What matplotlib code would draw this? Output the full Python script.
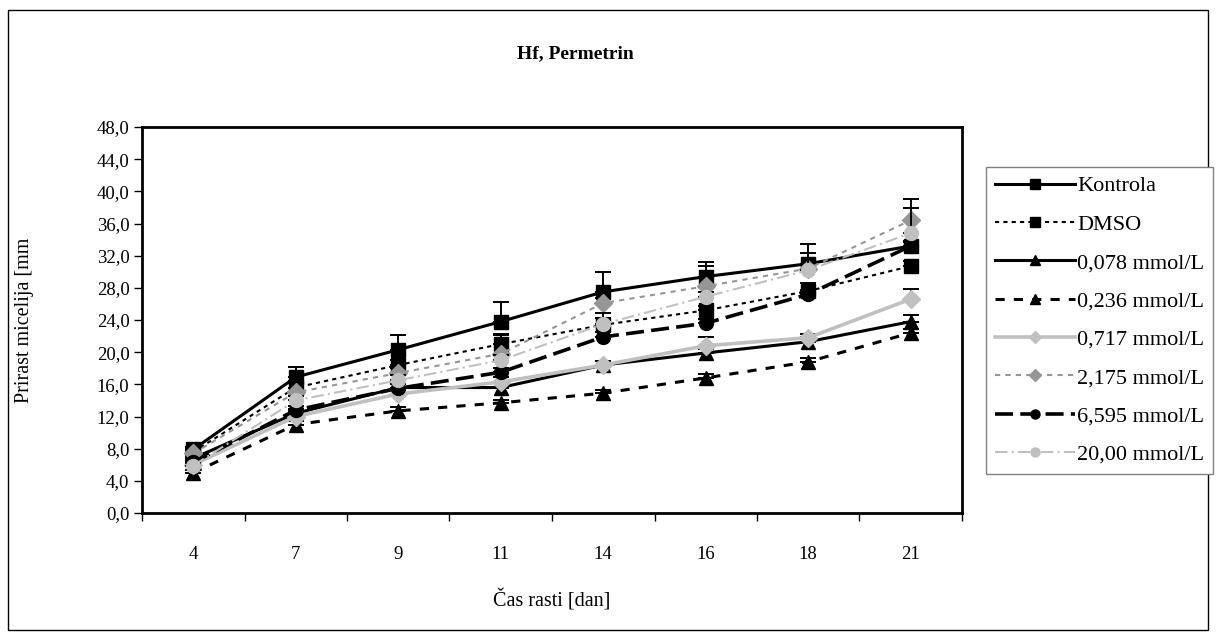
import matplotlib
matplotlib.use("Agg")
import matplotlib.pyplot as plt
from matplotlib.patches import Rectangle
import numpy as np

plt.rcParams["font.family"] = ["Liberation Serif", "DejaVu Serif"]

days = ["4", "7", "9", "11", "14", "16", "18", "21"]

kontrola = [7.9, 16.9, 20.3, 23.8, 27.5, 29.4, 31.0, 33.2]
dmso = [7.6, 15.6, 18.4, 21.0, 23.4, 25.2, 27.6, 30.7]
c0078 = [6.8, 12.4, 15.6, 15.6, 18.4, 19.9, 21.3, 23.8]
c0236 = [5.0, 11.0, 12.7, 13.7, 14.9, 16.8, 18.8, 22.4]
c0717 = [6.0, 12.0, 14.8, 16.3, 18.4, 20.8, 21.8, 26.6]
c2175 = [7.4, 15.0, 17.4, 19.8, 26.1, 28.2, 30.4, 36.4]
c6595 = [6.3, 12.8, 15.5, 17.5, 21.9, 23.6, 27.2, 33.2]
c2000 = [5.9, 14.0, 16.5, 19.0, 23.5, 26.9, 30.2, 34.8]

# upper error bars (Excel "plus" only)
kontrola_err = [0.3, 1.3, 1.8, 2.5, 2.5, 1.8, 2.4, 0.5]
dmso_err = [0.3, 0.8, 0.6, 1.3, 0.8, 0.5, 1.0, 0.6]
c0078_err = [0.3, 0.5, 0.5, 0.6, 0.5, 0.5, 0.6, 0.8]
c0236_err = [0.3, 0.5, 0.5, 0.4, 0.4, 0.5, 0.5, 0.5]
c0717_err = [0.3, 0.5, 0.5, 0.6, 0.5, 1.1, 0.5, 1.3]
c2175_err = [0.3, 0.6, 0.6, 2.3, 0.6, 2.5, 0.6, 2.6]
c6595_err = [0.3, 0.5, 0.5, 0.5, 0.6, 0.5, 0.5, 0.6]
c2000_err = [0.3, 0.6, 0.6, 0.6, 1.4, 0.6, 2.1, 3.1]

labels = ["Kontrola", "DMSO", "0,078 mmol/L", "0,236 mmol/L", "0,717 mmol/L",
          "2,175 mmol/L", "6,595 mmol/L", "20,00 mmol/L"]

LIGHT = "#C0C0C0"
DARK = "#969696"
series = [
    (kontrola, kontrola_err, dict(color="black", ls="-", lw=2.2, marker="s")),
    (dmso, dmso_err, dict(color="black", ls=(0, (2, 2)), lw=1.5, marker="s")),
    (c0078, c0078_err, dict(color="black", ls="-", lw=2.2, marker="^")),
    (c0236, c0236_err, dict(color="black", ls=(0, (3, 3)), lw=2.2, marker="^")),
    (c0717, c0717_err, dict(color=LIGHT, ls="-", lw=2.6, marker="D")),
    (c2175, c2175_err, dict(color=DARK, ls=(0, (2.5, 2.5)), lw=1.5, marker="D")),
    (c6595, c6595_err, dict(color="black", ls=(0, (5, 2)), lw=2.6, marker="o")),
    (c2000, c2000_err, dict(color=LIGHT, ls=(0, (6, 2, 1, 2)), lw=1.5, marker="o")),
]

W, H = 1216, 637
fig = plt.figure(figsize=(W / 100, H / 100), dpi=100)
ax = fig.add_axes([142 / W, 1 - 513 / H, (962 - 142) / W, (513 - 127) / H])

x = np.arange(len(days))
handles = []
for (vals, err, st), lab in zip(series, labels):
    ms = 9 if st["marker"] == "D" else 10
    ax.errorbar(x, vals, yerr=[np.zeros(len(err)), err], fmt="none",
                ecolor="black", elinewidth=1.4, capsize=5.5, capthick=1.4)
    (ln,) = ax.plot(x, vals, color=st["color"], ls=st["ls"], lw=st["lw"],
                    marker=st["marker"], ms=ms, mfc=st["color"], mec=st["color"],
                    label=lab)
    handles.append(ln)

ax.set_xlim(-0.5, len(days) - 0.5)
ax.set_ylim(0, 48)
ax.set_yticks(np.arange(0, 49, 4))
ax.set_yticklabels([f"{v:.1f}".replace(".", ",") for v in np.arange(0, 49, 4)])
ax.set_xticks(x)
ax.set_xticklabels(days)
ax.set_xticks(np.arange(-0.5, len(days), 1), minor=True)
ax.tick_params(axis="x", which="major", length=0, pad=24, labelsize=13.5)
ax.tick_params(axis="x", which="minor", length=6, width=1, direction="out")
ax.tick_params(axis="y", length=6, width=1, direction="out", labelsize=13.5, pad=3)
for sp in ax.spines.values():
    sp.set_linewidth(2)
    sp.set_color("black")

fig.text(552 / W, 1 - 600 / H, "Čas rasti [dan]", ha="center", va="center", fontsize=14.5)
fig.text(25 / W, 1 - 320 / H, "Prirast micelija [mm", ha="center", va="center",
         rotation=90, fontsize=14.5)
fig.text(575 / W, 1 - 54 / H, "Hf, Permetrin", ha="center", va="center",
         fontsize=14, fontweight="bold")

leg = fig.legend(handles=handles, loc="upper left",
                 bbox_to_anchor=(986 / W, 1 - 167 / H), fontsize=16,
                 handlelength=3.6, handletextpad=0.1, labelspacing=0.8,
                 borderpad=0.4, borderaxespad=0, markerscale=0.65,
                 fancybox=False, framealpha=1, edgecolor="#808080")
leg.get_frame().set_linewidth(1)

fig.patches.append(Rectangle((8 / W, 1 - 630 / H), (1208 - 8) / W, (630 - 10) / H,
                             transform=fig.transFigure, fill=False,
                             edgecolor="black", lw=1))

fig.savefig("out.png", dpi=100)
